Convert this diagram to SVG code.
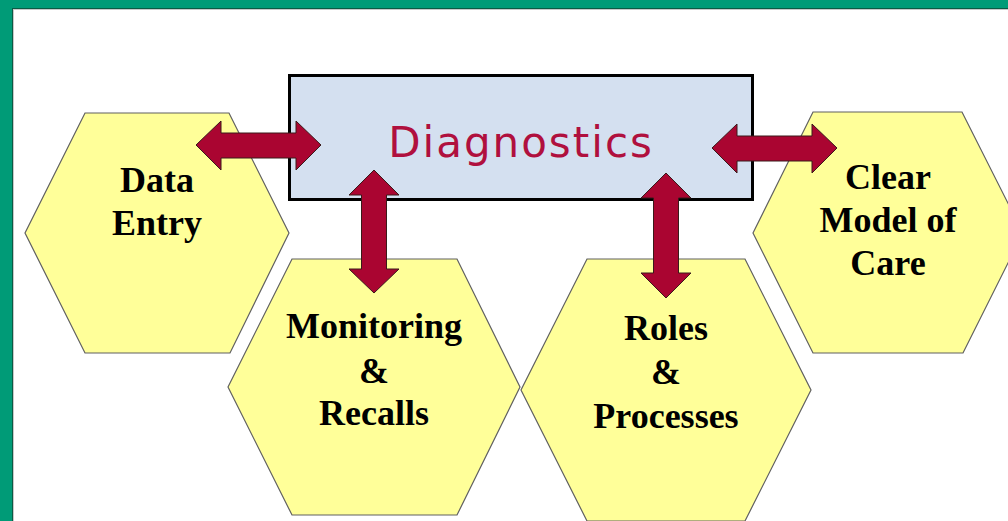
<svg xmlns="http://www.w3.org/2000/svg" width="1008" height="521" viewBox="0 0 1008 521">
<style>
.hex{fill:#FFFF99;stroke:#606060;stroke-width:1.2}
.lbl{font-family:"Liberation Serif","Times New Roman",serif;font-weight:bold;font-size:36px;fill:#000;text-anchor:middle}
.arr{fill:#AA0531;stroke:#3a1a1a;stroke-width:1}
</style>
<rect x="0" y="0" width="1008" height="521" fill="#ffffff"/>
<g id="frame">
<rect x="0" y="0" width="1008" height="8" fill="#009B77"/>
<rect x="0" y="0" width="12" height="521" fill="#009B77"/>
<line x1="12" y1="8.5" x2="1008" y2="8.5" stroke="#0b5a44" stroke-width="1"/>
<line x1="12.5" y1="8" x2="12.5" y2="521" stroke="#0b5a44" stroke-width="1"/>
<line x1="13" y1="9.5" x2="1008" y2="9.5" stroke="#c8c8c8" stroke-width="1"/>
<line x1="13.5" y1="9" x2="13.5" y2="521" stroke="#c8c8c8" stroke-width="1"/>
</g>
<g id="data-entry">
<polygon class="hex" points="85,113 229,113 289,233 230,353 85,353 25,233"/>
<text class="lbl" x="157" y="192">Data</text>
<text class="lbl" x="157" y="235">Entry</text>
</g>
<g id="monitoring">
<polygon class="hex" points="292,259 457,259 520,387 457,515 292,515 228,387"/>
<text class="lbl" x="374" y="338">Monitoring</text>
<text class="lbl" x="374" y="383">&amp;</text>
<text class="lbl" x="374" y="425">Recalls</text>
</g>
<g id="roles">
<polygon class="hex" points="587,259 745,259 811,390 745,521 587,521 521,390"/>
<text class="lbl" x="666" y="340">Roles</text>
<text class="lbl" x="666" y="384">&amp;</text>
<text class="lbl" x="666" y="428">Processes</text>
</g>
<g id="clear-model">
<polygon class="hex" points="813,112 962,112 1023,233 963,353 813,353 753,233"/>
<text class="lbl" x="888" y="189">Clear</text>
<text class="lbl" x="888" y="232">Model of</text>
<text class="lbl" x="888" y="275">Care</text>
</g>
<g id="diagnostics">
<rect x="289.5" y="75.5" width="463" height="124" fill="#D4E0F0" stroke="#000" stroke-width="3"/>
<text x="521" y="157" font-family="'DejaVu Sans',Verdana,sans-serif" font-size="42" letter-spacing="2" fill="#B0103E" text-anchor="middle">Diagnostics</text>
</g>
<g id="connectors">
<polygon class="arr" points="196,145 221,121 221,133 296,133 296,121 321,145 296,170 296,158 221,158 221,170"/>
<polygon class="arr" points="374,170 399,195 386.5,195 386.5,269 399,269 374,293 349,269 361.5,269 361.5,195 349,195"/>
<polygon class="arr" points="666,173 691,198 678.5,198 678.5,273 691,273 666,298 641,273 653.5,273 653.5,198 641,198"/>
<polygon class="arr" points="712,148 737,124 737,136 812,136 812,124 837,148 812,173 812,161 737,161 737,173"/>
</g>
</svg>
